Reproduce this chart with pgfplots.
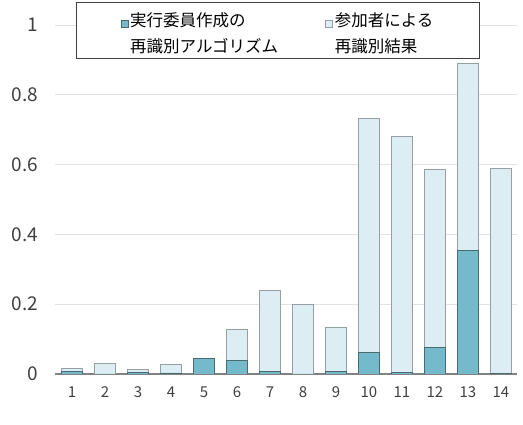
\documentclass[border=0pt]{standalone}
\usepackage{fontspec}
\setmainfont{Noto Sans CJK JP}
\usepackage{pgfplots}
\pgfplotsset{compat=1.18}
\definecolor{darkbar}{RGB}{116,186,203}
\definecolor{darkedge}{RGB}{75,105,112}
\definecolor{lightbar}{RGB}{220,237,243}
\definecolor{lightedge}{RGB}{150,160,163}
\definecolor{gridc}{RGB}{226,226,226}
\definecolor{axisc}{RGB}{130,130,130}
\definecolor{tickc}{RGB}{64,64,64}
\begin{document}
\begin{tikzpicture}
\useasboundingbox (-55.5pt,-51pt) rectangle (467.5pt,374pt);
\begin{axis}[
  scale only axis,
  width=462pt, height=349pt,
  xmin=0.5, xmax=14.5, ymin=0, ymax=1,
  ybar, bar width=20.5pt, bar shift=0pt,
  xtick={1,...,14},
  ytick={0,0.2,0.4,0.6,0.8,1},
  /pgf/number format/assume math mode=true,
  major tick length=0pt,
  axis x line*=bottom, axis y line*=left,
  y axis line style={draw=none},
  x axis line style={draw=axisc, line width=1.6pt, -},
  ymajorgrids, grid style={draw=gridc, line width=0.8pt},
  yticklabel={\fontsize{19}{19}\selectfont\pgfmathprintnumber{\tick}},
  yticklabel style={text=tickc, xshift=-14pt},
  xticklabel={\fontsize{15}{15}\selectfont\pgfmathprintnumber{\tick}},
  xticklabel style={text=tickc, yshift=-9pt},
  reverse legend,
  legend columns=2,
  legend style={at={(0.4816,1.066)}, anchor=north, draw=darkgray, line width=0.8pt,
    font=\fontsize{16.5}{26}\selectfont, cells={anchor=center},
    inner xsep=44pt, inner ysep=4pt,
    /tikz/every even column/.append style={column sep=45pt}},
  legend image code/.code={\path (0pt,-30pt); \draw[#1, line width=0.6pt] (0pt,-3.5pt) rectangle (7pt,3.5pt);},
]
\addplot[fill=lightbar, draw=lightedge, line width=0.8pt] coordinates {
(1,0.017) (2,0.030) (3,0.014) (4,0.027) (5,0.045) (6,0.127) (7,0.240)
(8,0.200) (9,0.133) (10,0.732) (11,0.680) (12,0.587) (13,0.890) (14,0.588)};
\addlegendentry{\begin{tabular}{@{}l@{}}参加者による\\再識別結果\end{tabular}}
\addplot[fill=darkbar, draw=darkedge, line width=0.8pt] coordinates {
(1,0.007) (2,0.0) (3,0.005) (4,0.003) (5,0.045) (6,0.040) (7,0.007)
(8,0.0) (9,0.008) (10,0.063) (11,0.005) (12,0.076) (13,0.354) (14,0.002)};
\addlegendentry{\begin{tabular}{@{}l@{}}実行委員作成の\\再識別アルゴリズム\end{tabular}}
\end{axis}
\end{tikzpicture}
\end{document}
